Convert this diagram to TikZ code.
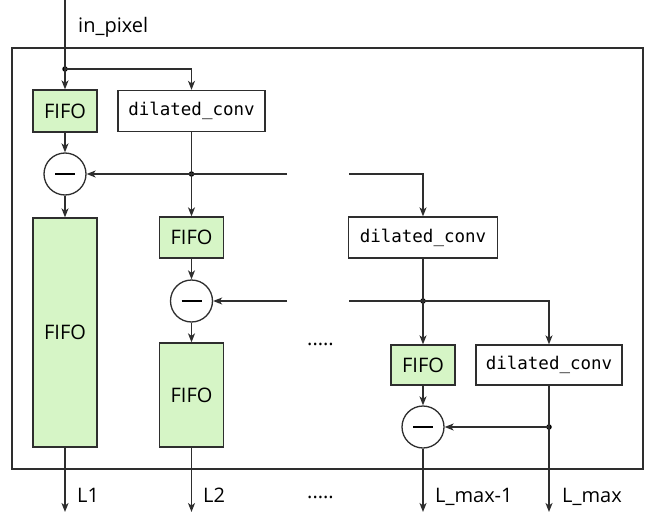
\documentclass[tikz,border=0pt]{standalone}
\usepackage{fontspec}
\setmainfont{Open Sans}
\setmonofont{DejaVu Sans Mono}
\usetikzlibrary{arrows.meta}
\definecolor{fifogreen}{HTML}{D6F5C6}
\definecolor{edge}{HTML}{2E2E2E}
\begin{document}
\begin{tikzpicture}[x=1pt,y=-1pt,
  wire/.style={line width=1.3pt, draw=edge},
  arr/.style={wire, -{Stealth[length=9pt,width=7pt,inset=2.5pt]}},
  fifobox/.style={draw=edge, line width=1.3pt, fill=fifogreen, inner sep=0pt,
    minimum width=64pt, font=\fontsize{20}{22}\selectfont},
  convbox/.style={draw=edge, line width=1.3pt, fill=white, inner sep=0pt,
    minimum height=41pt, font=\ttfamily\fontsize{17.5}{20}\selectfont},
  subnode/.style={circle, draw=edge, line width=1.3pt, fill=white,
    minimum size=42pt, inner sep=0pt},
  dot/.style={circle, fill=black, inner sep=0pt, minimum size=5.5pt},
  lbl/.style={font=\fontsize{20}{22}\selectfont, anchor=base west, inner sep=0pt},
  dots/.style={font=\fontsize{20}{22}\selectfont, anchor=base, inner sep=0pt}]

\useasboundingbox (0,0) rectangle (648,514);

% enclosing block
\draw[line width=1.5pt, draw=edge] (12,48) rectangle (643,469);

% first stage
\node[fifobox, minimum height=42pt] (f1) at (65,111) {FIFO};
\node[convbox, minimum width=147pt] (dc1) at (191.5,111) {dilated\_conv};
\node[subnode] (s1) at (65,174) {\rule{20pt}{2.6pt}};
\node[fifobox, minimum height=229pt] (F1) at (65,332.5) {FIFO};

% second stage
\node[fifobox, minimum height=41pt] (f2) at (191.5,237.5) {FIFO};
\node[convbox, minimum width=149pt] (dc2) at (423,237.5) {dilated\_conv};
\node[subnode] (s2) at (191.5,301) {\rule{20pt}{2.6pt}};
\node[fifobox, minimum height=104pt] (F2) at (191.5,395) {FIFO};

% last stage
\node[fifobox, minimum height=40pt] (f3) at (423,365) {FIFO};
\node[convbox, minimum width=146pt, minimum height=40pt] (dc3) at (549,365) {dilated\_conv};
\node[subnode] (s3) at (423,427) {\rule{20pt}{2.6pt}};

% branch points and wire ends
\coordinate (in) at (65,0);
\node[dot] (j0) at (65,69) {};
\node[dot] (j1) at (191.5,174) {};
\node[dot] (j2) at (423,301) {};
\node[dot] (j3) at (549,427) {};
\coordinate (g1a) at (287,174);
\coordinate (g1b) at (349,174);
\coordinate (g2a) at (287,301);
\coordinate (g2b) at (349,301);
\coordinate (o1) at (65,512);
\coordinate (o2) at (191.5,512);
\coordinate (o3) at (423,512);
\coordinate (o4) at (549,512);

% input
\draw[wire] (in) -- (j0.center);
\draw[arr] (j0.center) -- (f1);
\draw[arr] (j0.center) -| (dc1);

% stage 1 wiring
\draw[arr] (f1) -- (s1);
\draw[arr] (s1) -- (F1);
\draw[wire] (dc1) -- (j1.center);
\draw[arr] (j1.center) -- (f2);
\draw[arr] (g1a) -- (s1);
\draw[arr] (g1b) -| (dc2);

% stage 2 wiring
\draw[arr] (f2) -- (s2);
\draw[arr] (s2) -- (F2);
\draw[wire] (dc2) -- (j2.center);
\draw[arr] (j2.center) -- (f3);
\draw[arr] (g2a) -- (s2);
\draw[arr] (g2b) -| (dc3);

% last stage wiring
\draw[arr] (f3) -- (s3);
\draw[wire] (dc3) -- (j3.center);
\draw[arr] (j3.center) -- (s3);

% outputs
\draw[arr] (F1) -- (o1);
\draw[arr] (F2) -- (o2);
\draw[arr] (s3) -- (o3);
\draw[arr] (j3.center) -- (o4);

% labels
\node[lbl] (lin) at (78,32) {in\_pixel};
\node[lbl] (l1) at (77,502) {L1};
\node[lbl] (l2) at (203,502) {L2};
\node[lbl] (l3) at (435,502) {L\_max-1};
\node[lbl] (l4) at (562,502) {L\_max};
\node[dots] (dmid) at (320.5,345) {.....};
\node[dots] (dbot) at (320.5,498) {.....};
\end{tikzpicture}
\end{document}
